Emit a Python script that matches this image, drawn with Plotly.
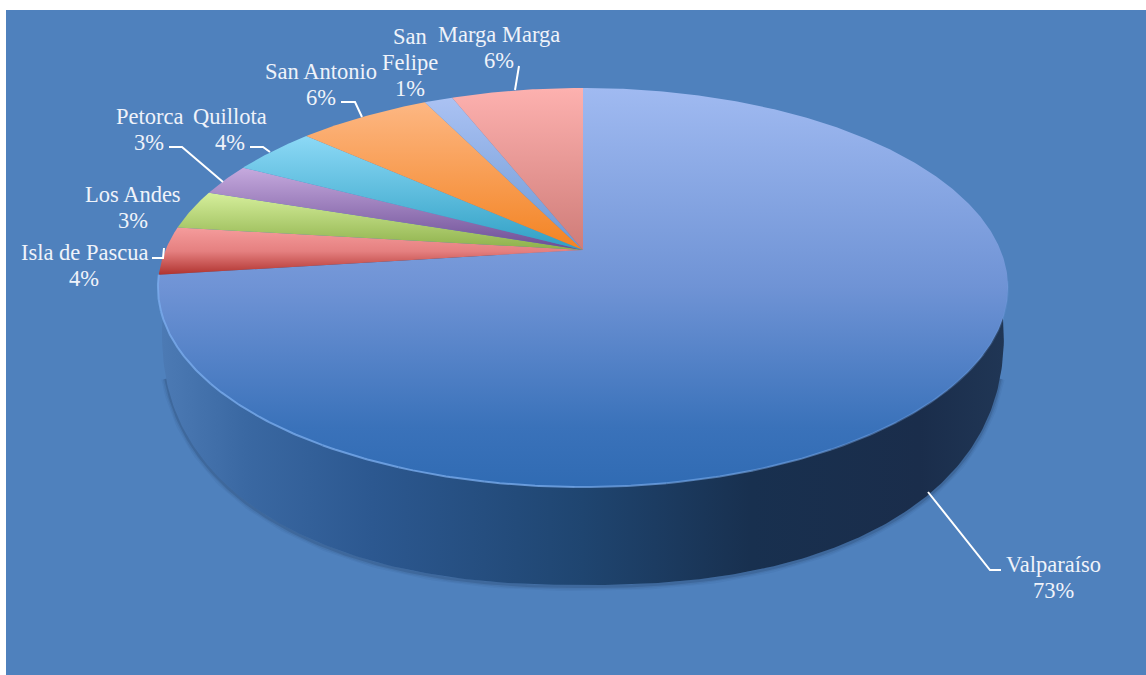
import numpy as np
import plotly.graph_objects as go

# ---- data ----
categories = ["Valparaíso", "Isla de Pascua", "Los Andes", "Petorca", "Quillota", "San Antonio", "San Felipe", "Marga Marga"]
values = [73.0, 3.9, 3.2, 2.6, 3.9, 6.1, 1.3, 6.0]
label_lines = {"San Felipe": ["San", "Felipe"]}

# ---- styles ----
slice_gradients = [
    [[0, "#a0baf1"], [0.5, "#6f93d5"], [0.85, "#3a72ba"], [1, "#306bb3"]],
    [[0, "#f59c9c"], [0.5, "#e58080"], [1, "#b0332f"]],
    [[0, "#d6ef9c"], [1, "#8db04a"]],
    [[0, "#c6aade"], [1, "#6b4c94"]],
    [[0, "#8cd9f6"], [1, "#2f9fc4"]],
    [[0, "#fdb783"], [1, "#f38322"]],
    [[0, "#abc2f3"], [1, "#6c98d4"]],
    [[0, "#fdb1af"], [1, "#cf7c78"]],
]
wall_gradient = [[0, "#4c7ab4"], [0.1, "#3a68a2"], [0.25, "#2c5890"], [0.5, "#1f4570"], [0.7, "#18304f"], [0.9, "#1a2d4b"], [1, "#203655"]]
BG = "#4f81bd"
LINE_STEP = 26

# x centre and y centre of first text line
label_xy = [(1053, 564), (84, 252), (133, 194), (149, 116), (230, 116), (321, 71), (410, 36), (499, 34)]
leaders = [
    [(928, 492), (990, 570), (1001, 570)],
    [(152, 258), (163, 258), (164, 248)],
    None,
    [(169, 147), (182, 147), (223, 182)],
    [(250, 147), (263, 147), (270, 152)],
    [(341, 102), (355, 102), (362, 117)],
    None,
    [(519, 66), (515, 90)],
]

# ---- projection of the disc (perspective ellipse in pixel-like axis units) ----
CX, CY, B, A, K = 583.0, 250.0, 417.5, 192.5, 0.188


def rim(theta):
    s, c = np.sin(theta), -np.cos(theta)
    d = 1 - K * c
    return CX + B * s / d, CY + A * c / d


def flipped(scale):
    # the y axis runs downward, so the gradient stops are mirrored
    return [[1 - p, col] for p, col in reversed(scale)]


fig = go.Figure()

# lower rim of the side wall
t = np.linspace(0, np.pi, 240)
n = 2.3
low_x = 583 + 421 * np.sign(np.cos(t)) * np.abs(np.cos(t)) ** (2 / n)
low_y = 330 + 255 * np.abs(np.sin(t)) ** (2 / n)
top_l = rim(np.radians(270))
top_r = rim(np.radians(90))
wall_x = np.r_[top_r[0], low_x, top_l[0], top_r[0]]
wall_y = np.r_[top_r[1] + 5, low_y, top_l[1] + 5, top_r[1] + 5]

keep = low_y > 375
for w, op in [(9, 0.05), (6, 0.08), (3, 0.16)]:
    fig.add_trace(go.Scatter(x=low_x[keep], y=low_y[keep] + 1.5, mode="lines",
                             line=dict(color=f"rgba(20,35,70,{op})", width=w),
                             hoverinfo="skip", showlegend=False))

fig.add_trace(go.Scatter(
    x=wall_x, y=wall_y, mode="lines", fill="toself",
    line=dict(width=0, color="rgba(0,0,0,0)"),
    fillgradient=dict(type="horizontal", colorscale=wall_gradient),
    hoverinfo="skip", showlegend=False))

# top faces, clockwise from twelve o'clock
shares = np.array(values) / sum(values)
edges = np.r_[0, np.cumsum(shares)] * 2 * np.pi
for i, name in enumerate(categories):
    th = np.linspace(edges[i], edges[i + 1], max(int(shares[i] * 720), 12))
    rx, ry = rim(th)
    fig.add_trace(go.Scatter(
        x=np.r_[CX, rx, CX], y=np.r_[CY, ry, CY], mode="lines", fill="toself",
        line=dict(width=0, color="rgba(0,0,0,0)"),
        fillgradient=dict(type="vertical", colorscale=flipped(slice_gradients[i])),
        name=name, hovertemplate=f"{name}: {values[i]}%<extra></extra>", showlegend=False))

# bevel highlight along the front edge of the big slice, fading toward the right
steps = np.linspace(np.pi * 0.55, edges[1], 17)
for k in range(16):
    th = np.linspace(steps[k], steps[k + 1], 24)
    rx, ry = rim(th)
    op = 0.12 + 0.62 * min(k / 8, 1)
    fig.add_trace(go.Scatter(x=rx, y=ry, mode="lines", line=dict(color=f"rgba(125,175,240,{op:.2f})", width=2),
                             hoverinfo="skip", showlegend=False))

# leader lines
for pts in leaders:
    if pts:
        fig.add_trace(go.Scatter(x=[p[0] for p in pts], y=[p[1] for p in pts], mode="lines",
                                 line=dict(color="white", width=2), hoverinfo="skip", showlegend=False))

# labels, one annotation per text line so the line pitch stays tight
for i, name in enumerate(categories):
    lines = label_lines.get(name, [name]) + [f"{round(values[i])}%"]
    for j, line in enumerate(lines):
        fig.add_annotation(x=label_xy[i][0], y=label_xy[i][1] + j * LINE_STEP, text=line, showarrow=False,
                           xanchor="center", yanchor="middle", align="center",
                           font=dict(family="Liberation Serif", size=22.5, color="#eff3fa"))

fig.update_layout(
    width=1146, height=675, autosize=False,
    paper_bgcolor="white", plot_bgcolor=BG,
    margin=dict(l=6, r=0, t=10, b=0),
    xaxis=dict(range=[6, 1146], visible=False, fixedrange=True),
    yaxis=dict(range=[675, 10], visible=False, fixedrange=True),
    showlegend=False,
)

fig.write_html("out.html", post_script="document.body.style.margin='0';", config=dict(displayModeBar=False))
